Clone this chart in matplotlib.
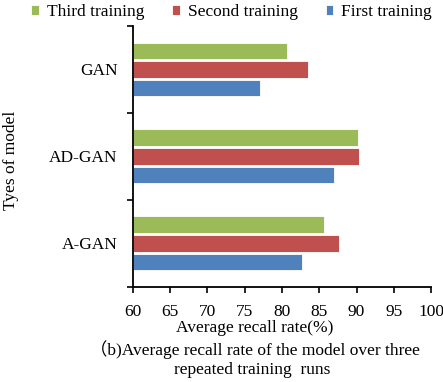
import matplotlib
matplotlib.use("Agg")
import matplotlib.pyplot as plt
import numpy as np

models = ["A-GAN", "AD-GAN", "GAN"]
series_names = ["First training", "Second training", "Third training"]
first_training = [82.7, 87.0, 77.1]
second_training = [87.7, 90.3, 83.5]
third_training = [85.6, 90.2, 80.7]
x_ticks = [60, 65, 70, 75, 80, 85, 90, 95, 100]

colors = ["#4F81BD", "#C0504D", "#9BBB59"]
serif = ["Liberation Serif", "Noto Sans CJK SC"]
plt.rcParams["font.family"] = serif
plt.rcParams["font.size"] = 12.5


def main() -> None:
    fig = plt.figure(figsize=(4.43, 3.82), dpi=100)
    ax = fig.add_axes([0.300, 0.249, 0.673, 0.683])

    y = np.arange(len(models))
    step = 0.215
    height = 0.19
    values = [first_training, second_training, third_training]
    offsets = [-step, 0.0, step]

    handles = []
    for vals, off, col, name in zip(values, offsets, colors, series_names):
        h = ax.barh(
            y + off,
            np.array(vals) - 60,
            left=60,
            height=height,
            color=col,
            edgecolor="white",
            linewidth=0.6,
            label=name,
        )
        handles.append(h)

    ax.set_xlim(60, 100)
    ax.set_ylim(-0.5, 2.5)
    ax.set_xticks(x_ticks)
    ax.set_yticks(y)
    ax.set_yticklabels(models)
    ax.set_yticks([-0.5, 0.5, 1.5, 2.5], minor=True)
    ax.tick_params(axis="y", which="major", length=0, pad=11)
    ax.tick_params(axis="y", which="minor", length=4, width=1.2)
    ax.tick_params(axis="x", length=4, width=1.2, pad=8)
    for side in ["top", "right"]:
        ax.spines[side].set_visible(False)
    for side in ["left", "bottom"]:
        ax.spines[side].set_linewidth(1.3)

    fig.text(0.574, 0.141, "Average recall rate(%)", ha="center", va="center")
    fig.text(
        0.024, 0.581, "Tyes of model",
        rotation=90, ha="center", va="center",
    )
    fig.text(
        0.575, 0.084,
        "（b)Average recall rate of the model over three",
        ha="center", va="center", family=serif,
    )
    fig.text(
        0.569, 0.031, "repeated training  runs",
        ha="center", va="center",
    )

    fig.legend(
        handles[::-1],
        series_names[::-1],
        loc="center",
        bbox_to_anchor=(0.523, 0.968),
        ncol=3,
        frameon=False,
        handlelength=0.45,
        handleheight=0.45,
        handletextpad=0.45,
        columnspacing=1.6,
        borderpad=0.2,
    )

    fig.savefig("out.png", dpi=100)


if __name__ == "__main__":
    main()
